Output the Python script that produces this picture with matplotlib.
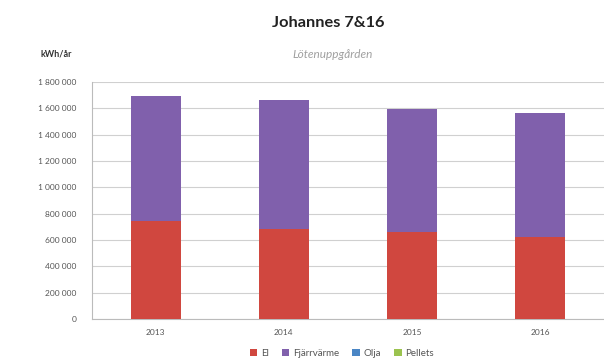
import numpy as np
import matplotlib.pyplot as plt
from matplotlib.ticker import FuncFormatter

# Energiförbrukning per år, kWh/år
years = ['2013', '2014', '2015', '2016']
el = [745000, 685000, 665000, 620000]
fjarrvarme = [950000, 980000, 930000, 945000]
olja = [0, 0, 0, 0]
pellets = [0, 0, 0, 0]

series = ['El', 'Fjärrvärme', 'Olja', 'Pellets']
colors = ['#D0473F', '#8060AC', '#4A86C5', '#9BC34F']

plt.rcParams['font.family'] = ['Lato', 'DejaVu Sans']

fig = plt.figure(figsize=(6.04, 3.61), dpi=100)
ax = fig.add_axes([0.152, 0.116, 0.848, 0.657])

x = np.arange(len(years))
w = 0.39
bottom = np.zeros(len(years))
for name, vals, c in zip(series, [el, fjarrvarme, olja, pellets], colors):
    ax.bar(x, vals, w, bottom=bottom, color=c, label=name, zorder=3)
    bottom += np.array(vals)

ax.set_xlim(-0.5, len(years) - 0.5)
ax.set_ylim(0, 1800000)
ax.set_yticks(np.arange(0, 1800001, 200000))
ax.yaxis.set_major_formatter(FuncFormatter(lambda v, p: '{:,.0f}'.format(v).replace(',', ' ')))
ax.set_xticks(x)
ax.set_xticklabels(years)
ax.tick_params(axis='both', labelsize=6, colors='#555555', length=0)
ax.tick_params(axis='y', pad=11)
ax.tick_params(axis='x', pad=7)
ax.grid(axis='y', color='#D0D0D0', linewidth=0.8, zorder=0)
for s in ['top', 'right']:
    ax.spines[s].set_visible(False)
for s in ['left', 'bottom']:
    ax.spines[s].set_color('#BBBBBB')
    ax.spines[s].set_linewidth(0.8)

fig.text(0.543, 0.936, 'Johannes 7&16', ha='center', va='center',
         fontsize=11.8, fontweight='bold', color='#222222')
fig.text(0.551, 0.85, 'Lötenuppgården', ha='center', va='center',
         fontsize=8.5, style='italic', color='#A0A0A0')
fig.text(0.093, 0.85, 'kWh/år', ha='center', va='center',
         fontsize=6.5, fontweight='bold', color='#333333')

fig.legend(loc='center', bbox_to_anchor=(0.566, 0.022), ncol=4, frameon=False,
           fontsize=7, handlelength=0.8, handleheight=0.8, handletextpad=0.4,
           columnspacing=1.3, labelcolor='#555555')

fig.savefig('out.png', dpi=100)
